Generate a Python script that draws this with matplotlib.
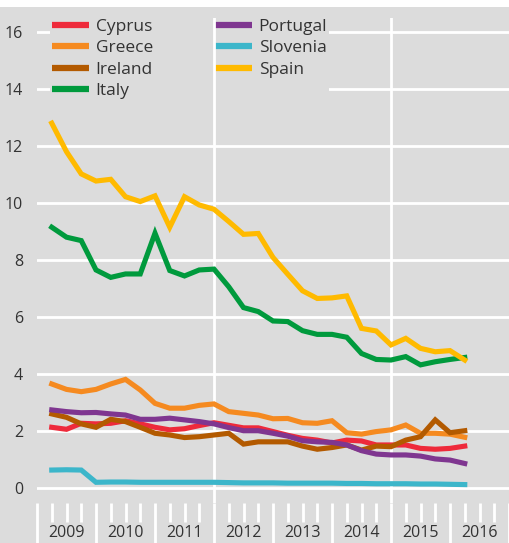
import matplotlib
matplotlib.use("Agg")
import matplotlib.pyplot as plt
import numpy as np

plt.rcParams['font.family'] = ['Open Sans', 'DejaVu Sans']

# quarterly values, 2009 Q1 .. 2016 Q1
quarters = 2009 + np.arange(1, 30) / 4

cyprus = [2.13, 2.06, 2.27, 2.25, 2.27, 2.36, 2.25, 2.13, 2.04, 2.08,
          2.19, 2.29, 2.20, 2.11, 2.11, 1.98, 1.85, 1.74, 1.68, 1.58,
          1.68, 1.65, 1.51, 1.51, 1.51, 1.39, 1.36, 1.39, 1.47]
greece = [3.65, 3.46, 3.38, 3.46, 3.65, 3.81, 3.44, 2.97, 2.80, 2.80,
          2.90, 2.95, 2.68, 2.62, 2.56, 2.43, 2.44, 2.29, 2.27, 2.36,
          1.94, 1.89, 1.98, 2.04, 2.21, 1.92, 1.92, 1.89, 1.78]
ireland = [2.60, 2.48, 2.25, 2.13, 2.41, 2.33, 2.13, 1.92, 1.86, 1.77,
           1.80, 1.86, 1.92, 1.54, 1.62, 1.62, 1.62, 1.47, 1.36, 1.42,
           1.51, 1.33, 1.47, 1.45, 1.68, 1.80, 2.39, 1.94, 2.01]
italy = [9.15, 8.80, 8.68, 7.65, 7.39, 7.51, 7.51, 8.94, 7.63, 7.44,
         7.65, 7.68, 7.06, 6.33, 6.19, 5.86, 5.84, 5.52, 5.39, 5.39,
         5.29, 4.72, 4.51, 4.49, 4.61, 4.32, 4.43, 4.51, 4.58]
portugal = [2.74, 2.68, 2.64, 2.65, 2.60, 2.56, 2.41, 2.41, 2.45, 2.39,
            2.33, 2.25, 2.12, 2.01, 2.01, 1.92, 1.82, 1.66, 1.62, 1.60,
            1.51, 1.31, 1.19, 1.16, 1.16, 1.12, 1.02, 0.98, 0.86]
slovenia = [0.63, 0.64, 0.63, 0.20, 0.21, 0.21, 0.20, 0.20, 0.20, 0.20,
            0.20, 0.20, 0.19, 0.18, 0.18, 0.18, 0.17, 0.17, 0.17, 0.17,
            0.16, 0.16, 0.15, 0.15, 0.15, 0.14, 0.14, 0.13, 0.12]
spain = [12.80, 11.80, 11.02, 10.77, 10.83, 10.22, 10.05, 10.25, 9.15, 10.22,
         9.93, 9.78, 9.35, 8.90, 8.93, 8.09, 7.50, 6.92, 6.65, 6.67,
         6.74, 5.60, 5.51, 5.02, 5.25, 4.90, 4.78, 4.82, 4.49]

series = [("Cyprus", cyprus, "#ee2a3b"),
          ("Greece", greece, "#f58a20"),
          ("Ireland", ireland, "#b35a00"),
          ("Italy", italy, "#009a3d"),
          ("Portugal", portugal, "#7f3690"),
          ("Slovenia", slovenia, "#3cb6ca"),
          ("Spain", spain, "#ffba00")]

years = list(range(2009, 2017))

bg = "#dcdcdc"
txt = "#333333"

fig = plt.figure(figsize=(5.09, 5.43), dpi=100, facecolor=bg)
fig.patches.append(plt.Rectangle((0, 1 - 7 / 543), 1, 7 / 543, transform=fig.transFigure,
                                 facecolor="white", edgecolor="none"))
ax = fig.add_axes([37 / 509, 1 - 503 / 543, 472 / 509, 485 / 543])
ax.set_facecolor(bg)

for name, vals, col in series:
    ax.plot(quarters, vals, color=col, lw=3.7, label=name, solid_joinstyle="miter",
            zorder=3)

ax.set_xlim(2009, 2017)
ax.set_ylim(-0.526, 16.49)
ax.set_yticks(range(0, 17, 2))
ax.grid(axis="y", color="white", lw=2, zorder=1)
ax.set_axisbelow(True)
# vertical markers sit above the legend box but below the data lines
for xv in [2012, 2015]:
    ax.axvline(xv, color="white", lw=2, zorder=2.5)

for s in ax.spines.values():
    s.set_visible(False)

ax.tick_params(axis="y", length=0, pad=10, labelsize=11.5, labelcolor=txt)
ax.set_xticks(range(2009, 2018))
ax.set_xticks(np.arange(2009, 2017, 0.25), minor=True)
ax.tick_params(axis="x", which="major", length=35, width=2, color="white", labelbottom=False)
ax.tick_params(axis="x", which="minor", length=14, width=2, color="white")

for yr in years:
    ax.annotate(str(yr), xy=(yr + 0.5, 0), xycoords=("data", "axes fraction"),
                xytext=(0, -30), textcoords="offset pixels", ha="center", va="center",
                fontsize=11.5, color=txt)

leg = ax.legend(ncol=2, loc="upper left", bbox_to_anchor=(0.01, 1.02), frameon=True,
                facecolor=bg, edgecolor="none", framealpha=1, fontsize=12.5,
                handlelength=2.1, handletextpad=0.4, labelspacing=0.3,
                columnspacing=3.6, borderpad=0.1)
leg.set_zorder(2)
for t in leg.get_texts():
    t.set_color(txt)
for h in leg.get_lines():
    h.set_linewidth(4.5)
    h.set_solid_capstyle("butt")

fig.savefig("out.png", dpi=100, facecolor=bg)
